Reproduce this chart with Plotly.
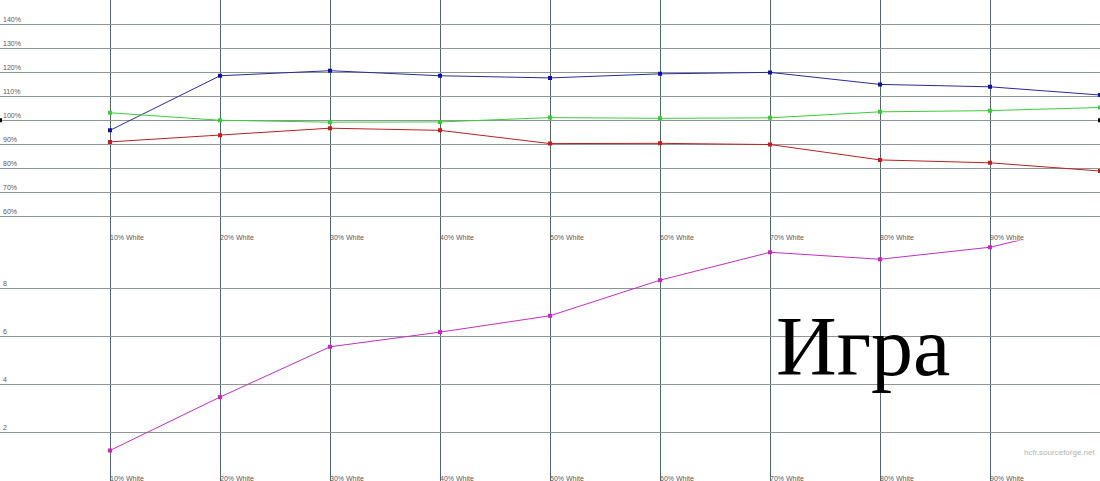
import plotly.graph_objects as go
from plotly.subplots import make_subplots

# white level of each measurement, percent
levels = [10, 20, 30, 40, 50, 60, 70, 80, 90, 100]
level_labels = ["10% White", "20% White", "30% White", "40% White", "50% White",
                "60% White", "70% White", "80% White", "90% White"]

# RGB levels relative to reference (%)
blue_pct = [95.8, 118.5, 120.6, 118.5, 117.6, 119.3, 119.9, 114.9, 113.9, 110.5]
green_pct = [103.1, 100.0, 99.2, 99.3, 101.1, 100.8, 101.0, 103.5, 104.0, 105.3]
red_pct = [91.0, 93.8, 96.7, 95.8, 90.3, 90.4, 89.9, 83.5, 82.3, 78.9]
ref_x = [0, 100]
ref_pct = [100, 100]

# delta E per level
delta_e = [1.27, 3.49, 5.58, 6.19, 6.87, 8.35, 9.51, 9.22, 9.72, 10.8]

pct_ticks = [60, 70, 80, 90, 100, 110, 120, 130, 140]
de_ticks = [2, 4, 6, 8]

HGRID = "#8c9696"
VGRID = "#52676a"
tick_font = dict(family="Liberation Sans, Arial, sans-serif", size=7, color="#5a5a5a")

fig = make_subplots(rows=2, cols=1, vertical_spacing=0.0)


def add_series(x, y, color, row, line_color=None):
    fig.add_trace(
        go.Scatter(
            x=x, y=y, mode="lines+markers",
            line=dict(color=line_color or color, width=1),
            marker=dict(symbol="square", size=4, color=color),
            showlegend=False,
        ),
        row=row, col=1,
    )


add_series(levels, blue_pct, "#1010b0", 1, "#2a2a98")
add_series(levels, green_pct, "#30d030", 1, "#3ccc3c")
add_series(levels, red_pct, "#d01818", 1, "#b82020")
fig.add_trace(
    go.Scatter(x=ref_x, y=ref_pct, mode="markers",
               marker=dict(symbol="square", size=4, color="#000000"),
               showlegend=False),
    row=1, col=1,
)
add_series(levels, delta_e, "#d020c8", 2, "#c030c0")

xaxis_common = dict(
    range=[0, 100],
    tickmode="array",
    tickvals=[10, 20, 30, 40, 50, 60, 70, 80, 90],
    ticktext=level_labels,
    ticklabelposition="inside right",
    ticklabelstandoff=-7,
    ticks="",
    showgrid=True,
    gridcolor=VGRID,
    gridwidth=1,
    zeroline=False,
    showline=False,
    tickfont=tick_font,
)
fig.update_xaxes(**xaxis_common, row=1, col=1)
fig.update_xaxes(**xaxis_common, row=2, col=1)

fig.update_yaxes(
    range=[50, 150], tickmode="array", tickvals=pct_ticks,
    ticktext=[f"{v}%" for v in pct_ticks],
    ticklabelposition="inside top", ticks="",
    showgrid=True, gridcolor=HGRID, zeroline=False, showline=False,
    tickfont=tick_font, row=1, col=1,
)
fig.update_yaxes(
    range=[0, 10], tickmode="array", tickvals=de_ticks,
    ticktext=[str(v) for v in de_ticks],
    ticklabelposition="inside top", ticks="",
    showgrid=True, gridcolor=HGRID, zeroline=False, showline=False,
    tickfont=tick_font, row=2, col=1,
)

fig.update_layout(
    width=1100, height=481,
    paper_bgcolor="#ffffff",
    plot_bgcolor="#ffffff",
    margin=dict(l=0, r=0, t=0, b=0),
    yaxis=dict(domain=[0.5, 1.0]),
    yaxis2=dict(domain=[0.0, 0.5]),
    annotations=[
        dict(text="Игра", xref="paper", yref="paper", x=0.704, y=0.178,
             xanchor="left", yanchor="bottom", showarrow=False,
             font=dict(family="Liberation Serif, Times New Roman, serif", size=84, color="#000000")),
        dict(text="hcfr.sourceforge.net", xref="paper", yref="paper", x=0.997, y=0.06,
             xanchor="right", yanchor="middle", showarrow=False,
             font=dict(family="Liberation Sans, Arial, sans-serif", size=8, color="#b4b4b4")),
    ],
)

fig.write_html("out.html", config={"displayModeBar": False},
               post_script="document.body.style.margin='0';")
